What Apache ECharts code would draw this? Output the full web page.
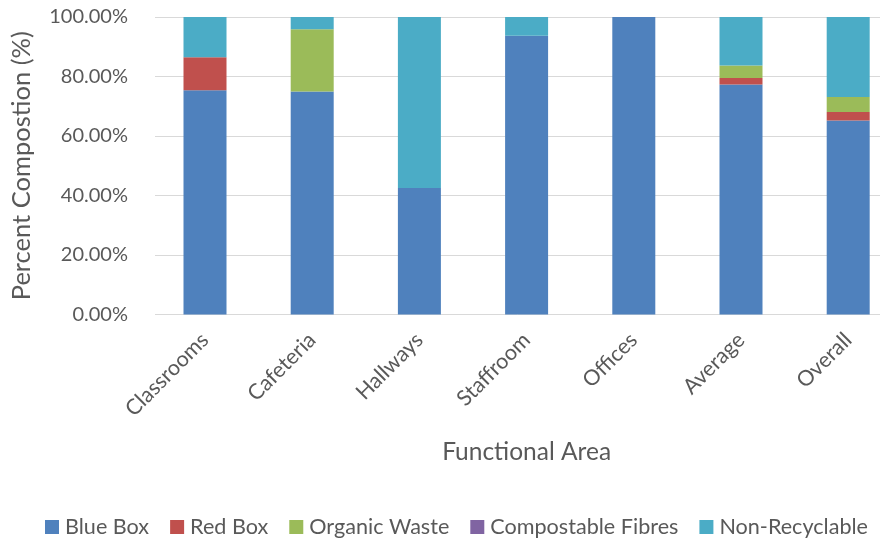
<!DOCTYPE html>
<html><head><meta charset="utf-8">
<script src="https://cdn.jsdelivr.net/npm/echarts@6/dist/echarts.min.js"></script>
<style>html,body{margin:0;padding:0;background:#fff}#c{width:891px;height:540px}</style>
</head><body><div id="c"></div>
<script>
const categories = ["Classrooms","Cafeteria","Hallways","Staffroom","Offices","Average","Overall"];
const blueBox = [75.4, 75.0, 42.5, 93.7, 100.0, 77.3, 65.2];
const redBox = [11.1, 0, 0, 0, 0, 2.2, 2.9];
const organicWaste = [0, 20.9, 0, 0, 0, 4.2, 5.0];
const compostableFibres = [0, 0, 0, 0, 0, 0, 0];
const nonRecyclable = [13.5, 4.1, 57.5, 6.3, 0, 16.3, 26.9];
const yTicks = [0, 20, 40, 60, 80, 100];

const names = ["Blue Box","Red Box","Organic Waste","Compostable Fibres","Non-Recyclable"];
const colors = ["#4f81bd","#c0504d","#9bbb59","#8064a2","#4bacc6"];
const datas = [blueBox, redBox, organicWaste, compostableFibres, nonRecyclable];
const font = "Lato, sans-serif";
const txt = '#595959';
const chart = echarts.init(document.getElementById('c'));
chart.setOption({
  animation: false,
  textStyle: {fontFamily: font},
  grid: [
    {left: 155, right: 11, top: 17, bottom: 225.5, outerBoundsMode: 'none'},
    {left: 151.4, width: 750.4, top: 17, bottom: 225.5, outerBoundsMode: 'none', containLabel: false}
  ],
  legend: {
    top: 511, left: 40, itemWidth: 14, itemHeight: 14, itemGap: 21,
    icon: 'rect',
    textStyle: {fontSize: 21.6, color: txt, fontFamily: font, padding: [0, 0, 0, 1]},
    data: names
  },
  xAxis: [
    {gridIndex: 0, type: 'category', data: categories, show: false},
    {gridIndex: 1, type: 'category', data: categories,
     name: 'Functional Area', nameLocation: 'middle', nameGap: 125,
     nameTextStyle: {fontSize: 24.5, color: txt},
     axisLine: {show: false},
     axisTick: {show: false},
     axisLabel: {rotate: 45, fontSize: 21.5, color: txt, margin: 22}}
  ],
  yAxis: [
    {gridIndex: 0, type: 'value', min: 0, max: 100, interval: 20,
     name: 'Percent Compostion (%)', nameLocation: 'middle', nameGap: 120,
     nameTextStyle: {fontSize: 25.5, color: txt},
     axisLine: {show: false}, axisTick: {show: false},
     splitLine: {lineStyle: {color: '#d9d9d9', width: 1}},
     axisLabel: {fontSize: 20, color: txt, margin: 27,
       formatter: v => yTicks.includes(v) ? v.toFixed(2) + '%' : ''}},
    {gridIndex: 1, type: 'value', min: 0, max: 100, interval: 20, show: false,
     splitLine: {show: false}}
  ],
  series: names.map((n, i) => ({
    name: n, type: 'bar', stack: 'total', data: datas[i],
    xAxisIndex: 1, yAxisIndex: 1,
    barWidth: 43,
    itemStyle: {color: colors[i]}
  }))
});
</script></body></html>
